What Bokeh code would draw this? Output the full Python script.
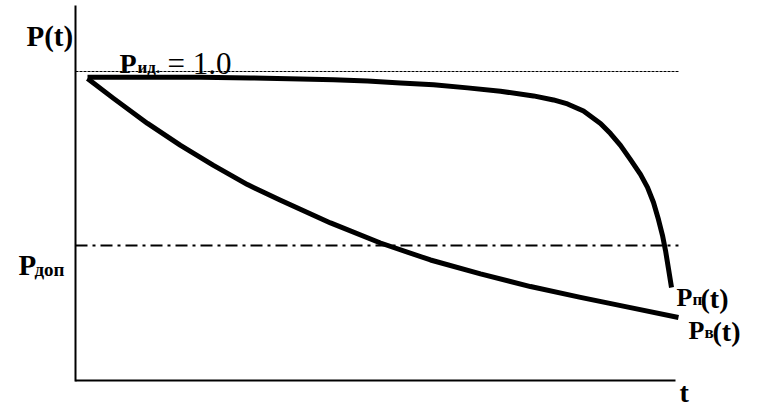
from bokeh.plotting import figure
from bokeh.models import Range1d, Label, FixedTicker, LinearAxis
from bokeh.embed import file_html
from bokeh.resources import INLINE

# ---- data (t in arbitrary units, P = reliability) ----
t_upper = [0.198, 1.238, 2.063, 2.888, 3.713, 4.257, 4.818, 5.363, 5.908, 6.469, 7.013, 7.558, 7.888,
           8.119, 8.383, 8.663, 8.828, 8.993, 9.158, 9.323, 9.439, 9.538, 9.620, 9.686, 9.736, 9.785, 9.835]
p_upper = [0.981, 0.981, 0.981, 0.979, 0.976, 0.973, 0.969, 0.963, 0.957, 0.947, 0.936, 0.921, 0.908,
           0.895, 0.872, 0.832, 0.799, 0.761, 0.715, 0.667, 0.625, 0.576, 0.521, 0.470, 0.421, 0.362, 0.301]

t_lower = [0.198, 0.627, 1.188, 1.733, 2.277, 2.838, 3.383, 4.208, 5.033, 5.858, 6.683, 7.508, 8.333, 9.158, 9.950]
p_lower = [0.977, 0.913, 0.832, 0.761, 0.696, 0.634, 0.583, 0.510, 0.445, 0.390, 0.345, 0.304, 0.269, 0.236, 0.204]

P_id = 1.0
P_dop = 0.437
t_ref = [0.0, 9.95]

W, H = 760, 410
X0, Y0, SX, SY = 75, 380, 60.6, 309.0   # pixel of origin and pixels per unit
FONT = "Liberation Serif"

def tx(px):
    return (px - X0) / SX

def py(pyy):
    return (Y0 - pyy) / SY

p = figure(width=W, height=H, output_backend="svg", toolbar_location=None,
           x_range=Range1d(tx(0), tx(W)), y_range=Range1d(py(H), py(0)),
           x_axis_location=None, y_axis_location=None,
           min_border=0, min_border_left=0, min_border_right=0,
           min_border_top=0, min_border_bottom=0)
p.outline_line_color = None
p.grid.visible = False
p.background_fill_color = "white"
p.border_fill_color = "white"

xa = LinearAxis(fixed_location=0, bounds=(0, tx(675)))
ya = LinearAxis(fixed_location=0, bounds=(py(381), py(5)))
for ax in (xa, ya):
    ax.ticker = FixedTicker(ticks=[])
    ax.axis_line_width = 2
    ax.axis_line_color = "black"
    ax.major_tick_line_color = None
    ax.minor_tick_line_color = None
    ax.major_label_text_font_size = "0px"
    ax.major_tick_out = 0
    ax.major_tick_in = 0
    ax.major_label_standoff = 0
p.add_layout(xa, "below")
p.add_layout(ya, "left")

# reference lines
p.line(t_ref, [P_id, P_id], line_color="black", line_width=1, line_dash="3 1")
p.line(t_ref, [P_dop, P_dop], line_color="black", line_width=2, line_dash="12 5 3 5")

# curves
p.line(t_upper, p_upper, line_color="black", line_width=5, line_join="round")
p.line(t_lower, p_lower, line_color="black", line_width=5, line_join="round")

def lab(text, px, pb, size, bold=True):
    p.add_layout(Label(x=tx(px), y=py(pb), text=text, text_font=FONT,
                       text_font_size=f"{size}px",
                       text_font_style="bold" if bold else "normal",
                       text_color="black", text_baseline="alphabetic", text_align="left"))

lab("P(t)", 26, 35, 29)
lab("P", 119, 63, 28)
lab("ид.", 137, 67, 17)
lab("= 1.0", 167, 63, 31, bold=False)
lab("P", 18, 264, 29)
lab("доп", 34, 269, 19)
lab("P", 676, 297, 26)
lab("п", 692, 299, 17)
lab("(t)", 700, 298, 28)
lab("P", 688, 330, 26)
lab("в", 704, 332, 17)
lab("(t)", 712, 331, 28)
lab("t", 679, 392, 28)

open("out.html", "w").write(file_html(p, INLINE))
